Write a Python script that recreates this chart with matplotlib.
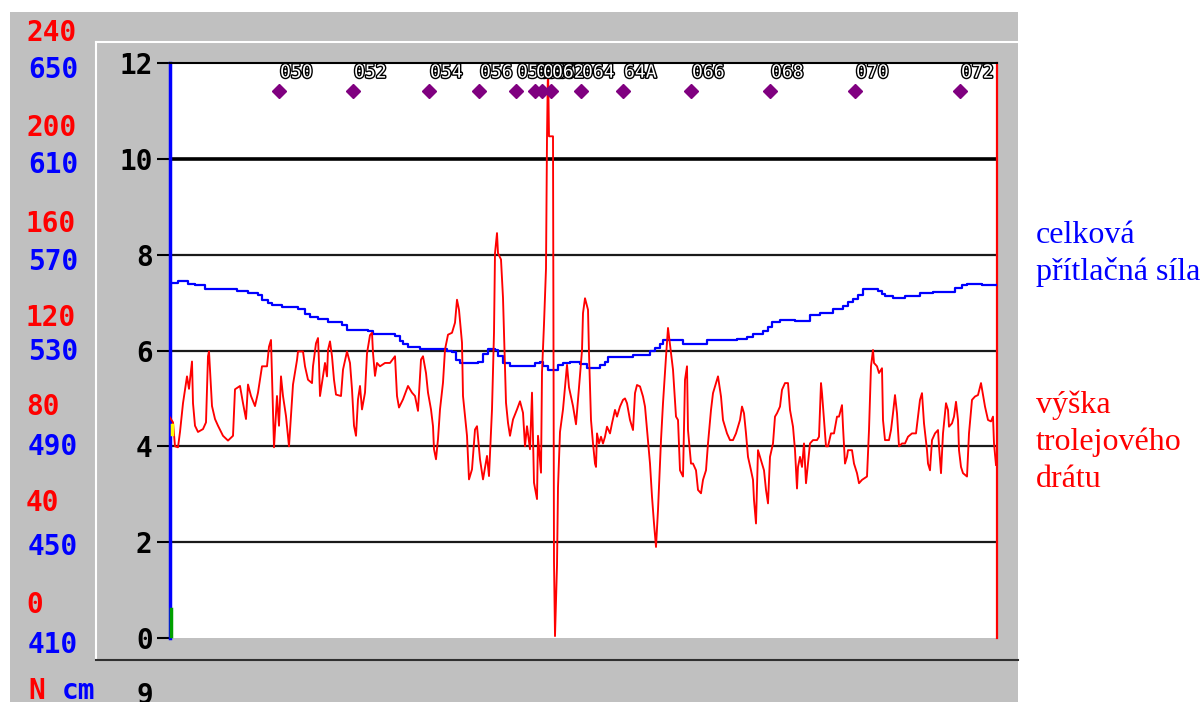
import matplotlib
matplotlib.use("Agg")
import matplotlib.pyplot as plt
from matplotlib.lines import Line2D
from matplotlib.patches import Rectangle
import matplotlib.patheffects as pe

# ---------------- data ----------------
# position along the track (chart units) and trolley wire height (chart scale 0..12)
height_pos = [0, 3, 5, 8, 10, 13, 17, 19, 22, 23, 25, 28, 33, 36, 38, 39, 42, 45, 48, 53, 58, 63, 65, 70, 73, 76, 78, 81, 85, 88,
              92, 97, 99, 101, 102, 104, 107, 109, 111, 113, 116, 119, 121, 123, 127, 128, 133, 135, 138, 142, 143, 146, 148, 149, 150,
              152, 155, 157, 158, 160, 162, 164, 166, 171, 173, 177, 180, 182, 184, 186, 188, 190, 192, 195, 197, 200, 202, 203, 205,
              207, 210, 215, 220, 225, 227, 229, 233, 238, 242, 245, 248, 251, 253, 256, 258, 261, 263, 264, 266, 268, 270, 273, 275,
              278, 282, 285, 287, 289, 292, 293, 297, 299, 302, 305, 307, 310, 313, 317, 319, 322, 324, 325, 327, 328, 331, 333, 336,
              338, 340, 343, 347, 350, 353, 355, 357, 360, 362, 364, 367, 368, 371, 372, 374, 376, 377, 378, 379, 383, 384, 385, 387,
              388, 390, 393, 397, 399, 403, 406, 409, 412, 413, 415, 418, 419, 421, 423, 425, 426, 427, 429, 431, 433, 435, 437, 440,
              442, 445, 447, 450, 453, 455, 457, 460, 463, 465, 467, 470, 473, 475, 478, 480, 482, 484, 486, 488, 491, 493, 496, 498,
              501, 503, 506, 508, 510, 513, 515, 517, 518, 521, 523, 526, 528, 531, 533, 536, 538, 541, 543, 546, 548, 551, 553, 557,
              560, 563, 566, 570, 572, 574, 576, 578, 581, 583, 584, 586, 588, 590, 592, 594, 596, 598, 600, 603, 605, 607, 610, 612,
              615, 618, 620, 623, 625, 627, 628, 630, 632, 634, 636, 638, 640, 643, 647, 649, 651, 652, 654, 656, 658, 661, 664, 667,
              669, 672, 673, 675, 677, 678, 682, 684, 687, 689, 692, 697, 699, 701, 703, 704, 707, 709, 712, 713, 715, 719, 721, 723,
              725, 727, 729, 732, 735, 738, 742, 746, 748, 750, 752, 754, 757, 758, 760, 762, 765, 768, 769, 771, 773, 776, 778, 779,
              782, 784, 786, 788, 789, 791, 793, 797, 799, 802, 805, 808, 811, 813, 815, 818, 821, 823, 824, 826]
height_val = [4.6, 4.5, 4.0, 3.98, 4.3, 4.9, 5.46, 5.2, 5.77, 4.9, 4.43, 4.3, 4.36, 4.5, 5.88, 5.98, 4.84, 4.57, 4.43, 4.22, 4.12,
              4.22, 5.19, 5.26, 4.9, 4.57, 5.29, 5.05, 4.84, 5.12, 5.67, 5.67, 6.08, 6.22, 5.46, 3.98, 5.05, 4.43, 5.46, 5.05, 4.63,
              4.0, 4.63, 5.29, 5.8, 5.98, 5.98, 5.67, 5.39, 5.32, 5.67, 6.15, 6.26, 5.74, 5.05, 5.32, 5.74, 5.46, 6.01, 6.19, 5.88,
              5.39, 5.08, 5.05, 5.6, 5.98, 5.74, 5.19, 4.43, 4.22, 4.98, 5.26, 4.77, 5.12, 5.94, 6.32, 6.37, 5.95, 5.47, 5.74, 5.67,
              5.74, 5.74, 5.88, 5.05, 4.81, 4.98, 5.26, 5.12, 5.05, 4.74, 5.81, 5.88, 5.53, 5.12, 4.77, 4.42, 3.94, 3.73, 4.15, 4.77,
              5.33, 6.02, 6.33, 6.37, 6.58, 7.06, 6.85, 6.16, 5.05, 4.22, 3.31, 3.52, 4.35, 4.42, 3.73, 3.31, 3.8, 3.38, 4.77, 6.37,
              8.03, 8.45, 8.03, 7.9, 7.1, 4.91, 4.49, 4.22, 4.56, 4.77, 4.94, 4.7, 4.0, 4.42, 3.94, 5.12, 3.24, 2.9, 4.22, 3.45, 5.54,
              6.55, 7.71, 10.43, 12.0, 10.47, 10.47, 1.59, 0.04, 1.51, 3.14, 4.3, 4.77, 5.7, 5.23, 4.84, 4.46, 5.23, 6.0, 6.78, 7.09,
              6.85, 5.94, 4.55, 4.06, 3.64, 3.57, 4.27, 4.06, 4.2, 4.06, 4.2, 4.41, 4.27, 4.48, 4.76, 4.62, 4.83, 4.97, 5.0, 4.9,
              4.55, 4.34, 5.11, 5.28, 5.25, 5.04, 4.83, 4.13, 3.64, 2.95, 2.39, 1.9, 2.67, 4.13, 4.9, 5.87, 6.47, 5.94, 5.6, 4.62,
              4.55, 3.5, 3.37, 5.39, 5.67, 4.34, 3.64, 3.64, 3.5, 3.09, 3.02, 3.3, 3.5, 4.06, 4.76, 5.11, 5.32, 5.46, 5.04, 4.55,
              4.27, 4.13, 4.13, 4.27, 4.55, 4.83, 4.69, 4.27, 3.78, 3.5, 3.3, 2.88, 2.39, 3.92, 3.78, 3.64, 3.5, 3.09, 2.81, 3.78,
              4.06, 4.62, 4.69, 4.83, 5.18, 5.32, 5.32, 4.76, 4.41, 3.92, 3.12, 3.57, 3.78, 3.57, 4.06, 3.23, 3.64, 4.06, 4.13, 4.13,
              4.2, 5.32, 5.11, 4.55, 4.0, 4.0, 4.27, 4.27, 4.62, 4.62, 4.86, 4.41, 3.64, 3.78, 3.92, 3.92, 3.64, 3.44, 3.23, 3.3,
              3.37, 4.34, 5.67, 6.01, 5.74, 5.67, 5.53, 5.63, 4.55, 4.13, 4.13, 4.34, 4.69, 5.07, 4.69, 4.0, 4.06, 4.06, 4.2, 4.27,
              4.27, 4.62, 4.97, 5.11, 4.48, 3.92, 3.64, 3.5, 4.13, 4.27, 4.34, 4.0, 3.44, 4.27, 4.9, 4.76, 4.41, 4.48, 4.62, 4.93,
              4.55, 3.92, 3.57, 3.44, 3.37, 4.27, 4.97, 5.04, 5.07, 5.32, 5.07, 4.83, 4.55, 4.52, 4.62, 4.06, 3.61]

# total contact force (chart scale 0..12)
force_pos = [0, 8, 13, 18, 25, 35, 67, 78, 88, 92, 98, 102, 112, 128, 135, 140, 148, 158, 172, 177, 198, 203, 225, 230, 233,
             238, 250, 277, 282, 286, 290, 308, 313, 318, 325, 328, 333, 340, 362, 365, 370, 373, 378, 383, 388, 393, 400, 410,
             417, 430, 435, 438, 463, 480, 485, 490, 493, 513, 537, 567, 577, 583, 593, 598, 602, 610, 625, 640, 650, 663, 673,
             678, 683, 688, 693, 708, 712, 715, 723, 735, 750, 763, 785, 792, 797, 812, 827]
force_val = [7.41, 7.46, 7.45, 7.39, 7.36, 7.29, 7.24, 7.19, 7.15, 7.06, 6.99, 6.94, 6.91, 6.86, 6.77, 6.7, 6.65, 6.6, 6.53,
             6.43, 6.41, 6.34, 6.3, 6.19, 6.13, 6.08, 6.03, 6.0, 5.97, 5.81, 5.74, 5.76, 5.92, 6.03, 6.02, 5.88, 5.74, 5.67, 5.67,
             5.74, 5.76, 5.67, 5.59, 5.6, 5.69, 5.73, 5.76, 5.72, 5.63, 5.7, 5.77, 5.87, 5.91, 5.98, 6.05, 6.14, 6.22, 6.14, 6.22,
             6.24, 6.29, 6.34, 6.4, 6.5, 6.59, 6.64, 6.61, 6.75, 6.79, 6.86, 6.93, 7.02, 7.07, 7.16, 7.28, 7.25, 7.18, 7.13, 7.09,
             7.14, 7.2, 7.23, 7.3, 7.37, 7.39, 7.37, 7.37]

# support (mast) markers
mast_pos = [109, 183, 259, 309, 346, 365, 372, 381, 411, 453, 521, 600, 685, 790]
mast_labels = ['050', '052', '054', '056', '058', '059', '060', '062', '064', '64A', '066', '068', '070', '072']

y_ticks = [0, 2, 4, 6, 8, 10, 12]
cm_labels = ['240', '200', '160', '120', '80', '40', '0']
n_labels = ['650', '610', '570', '530', '490', '450', '410']

# ---------------- styling ----------------
W, H = 1204, 702
RED = '#ff0000'
BLUE = '#0000ff'
GRAY = '#c0c0c0'
MONO = 'DejaVu Sans Mono'
FS = 20

def fx(x):
    return x / W

def fy(y):
    return 1 - y / H

fig = plt.figure(figsize=(W / 100, H / 100), dpi=100)
fig.patch.set_facecolor('white')

# grey instrument panel
fig.patches.append(Rectangle((fx(10), 0), fx(1018) - fx(10), fy(12), transform=fig.transFigure,
                             facecolor=GRAY, edgecolor='none', zorder=-10))
# bevel of inner panel
fig.lines.append(Line2D([fx(96), fx(96)], [fy(42), fy(660)], transform=fig.transFigure, color='white', lw=1.5, zorder=-5))
fig.lines.append(Line2D([fx(96), fx(1018)], [fy(42), fy(42)], transform=fig.transFigure, color='white', lw=1.5, zorder=-5))
fig.lines.append(Line2D([fx(96), fx(1018)], [fy(660), fy(660)], transform=fig.transFigure, color='#303030', lw=1.5, zorder=-5))

ax = fig.add_axes([fx(170), fy(638), fx(997) - fx(170), fy(63) - fy(638)])
ax.set_zorder(5)
ax.set_facecolor('white')
ax.set_xlim(0, 827)
ax.set_ylim(0, 12)

for g in [2, 4, 6, 8]:
    ax.axhline(g, color='#1a1a1a', lw=1.6, zorder=1)
ax.axhline(10, color='black', lw=2.6, zorder=1)

ax.plot(force_pos, force_val, color=BLUE, lw=1.6, drawstyle='steps-post', zorder=3)
ax.plot(height_pos, height_val, color=RED, lw=1.35, zorder=4)

ax.plot(mast_pos, [11.42] * len(mast_pos), linestyle='none', marker='D', ms=7,
        color='#800080', zorder=5)
for p, lab in zip(mast_pos, mast_labels):
    t = ax.text(p + 1, 11.8, lab, ha='left', va='center', fontsize=13, family=MONO,
                color='white', zorder=6)
    t.set_path_effects([pe.Stroke(linewidth=2.0, foreground='black'), pe.Normal()])

# small coloured marks on left axis
ax.plot([1, 1], [0.05, 0.6], color='#00a000', lw=2.5, zorder=7, clip_on=False)
ax.plot([2, 2], [4.25, 4.45], color='#ffff00', lw=2.5, zorder=7, clip_on=False)

ax.spines['left'].set_color(BLUE)
ax.spines['left'].set_linewidth(2.5)
ax.spines['right'].set_color(RED)
ax.spines['right'].set_linewidth(1.6)
ax.spines['top'].set_color('black')
ax.spines['top'].set_linewidth(1.5)
ax.spines['bottom'].set_visible(False)

ax.set_xticks([])
ax.set_yticks(y_ticks)
ax.set_yticklabels([str(v) for v in y_ticks], family=MONO, fontweight='bold', fontsize=FS)
ax.tick_params(axis='y', length=9.5, width=1.5, color='black', pad=3)

# left scale labels (cm red, N blue)
cm_y = [33, 128, 224, 318, 407, 503, 605]
n_y = [70, 165, 262, 352, 447, 547, 645]
for lab, yy in zip(cm_labels, cm_y):
    fig.text(fx(26), fy(yy), lab, color=RED, ha='left', va='center', family=MONO,
             fontweight='bold', fontsize=FS)
for lab, yy in zip(n_labels, n_y):
    fig.text(fx(28), fy(yy), lab, color=BLUE, ha='left', va='center', family=MONO,
             fontweight='bold', fontsize=FS)

fig.text(fx(28), fy(677), 'N', color=RED, ha='left', va='top', family=MONO, fontweight='bold', fontsize=FS)
fig.text(fx(62), fy(677), 'cm', color=BLUE, ha='left', va='top', family=MONO, fontweight='bold', fontsize=FS)
fig.text(fx(136), fy(682), '9', color='black', ha='left', va='top', family=MONO, fontweight='bold', fontsize=FS)

# legend text on the right
SERIF = 'Liberation Serif'
fig.text(fx(1036), fy(243), 'celková', color=BLUE, ha='left', va='baseline', family=SERIF, fontsize=23)
fig.text(fx(1036), fy(280), 'přítlačná síla', color=BLUE, ha='left', va='baseline', family=SERIF, fontsize=23)
fig.text(fx(1036), fy(413), 'výška', color=RED, ha='left', va='baseline', family=SERIF, fontsize=23)
fig.text(fx(1036), fy(450), 'trolejového', color=RED, ha='left', va='baseline', family=SERIF, fontsize=23)
fig.text(fx(1036), fy(487), 'drátu', color=RED, ha='left', va='baseline', family=SERIF, fontsize=23)

fig.savefig('out.png', dpi=100)
